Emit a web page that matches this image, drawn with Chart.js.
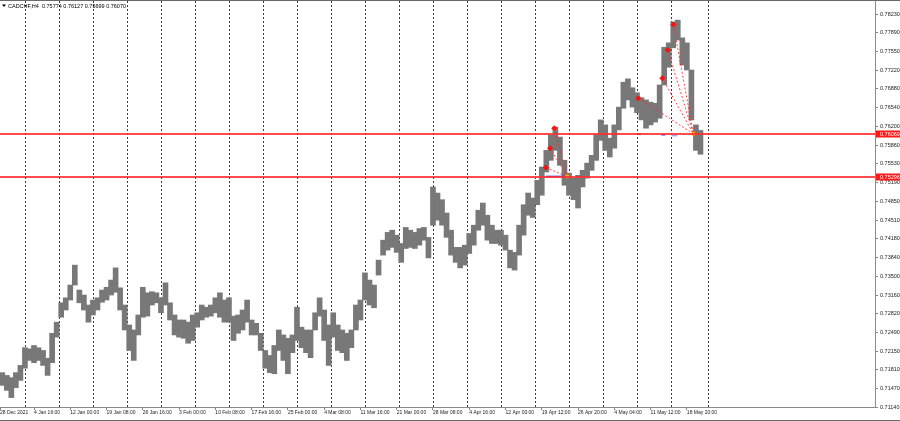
<!DOCTYPE html>
<html>
<head>
<meta charset="utf-8">
<title>CADCHF,H4</title>
<script src="https://cdn.jsdelivr.net/npm/chart.js@4.4.1/dist/chart.umd.min.js"></script>
<style>
html, body { margin: 0; padding: 0; background: #fff; }
canvas { display: block; }
</style>
</head>
<body>
<canvas id="grafico" width="900" height="421"></canvas>
<script>
// Máximas e mínimas do CADCHF H4, cada coluna junta 4 barras (início em 28 Dec 2021)
var highs = [
  0.7176, 0.7171, 0.7167, 0.7176, 0.7189, 0.7221, 0.7219, 0.7225, 0.7221, 0.7216,
  0.7202, 0.7247, 0.7267, 0.7302, 0.7311, 0.7334, 0.7370, 0.7325, 0.7316, 0.7298,
  0.7307, 0.7311, 0.7325, 0.7330, 0.7343, 0.7365, 0.7329, 0.7298, 0.7262, 0.7253,
  0.7280, 0.7330, 0.7320, 0.7322, 0.7320, 0.7311, 0.7338, 0.7302, 0.7280, 0.7271,
  0.7271, 0.7267, 0.7280, 0.7284, 0.7298, 0.7294, 0.7298, 0.7311, 0.7320, 0.7307,
  0.7311, 0.7278, 0.7280, 0.7289, 0.7307, 0.7271, 0.7265, 0.7247, 0.7216, 0.7207,
  0.7225, 0.7253, 0.7244, 0.7238, 0.7244, 0.7294, 0.7258, 0.7253, 0.7253, 0.7284,
  0.7311, 0.7289, 0.7262, 0.7284, 0.7262, 0.7253, 0.7247, 0.7253, 0.7298, 0.7307,
  0.7356, 0.7343, 0.7334, 0.7379, 0.7415, 0.7429, 0.7433, 0.7424, 0.7409, 0.7438,
  0.7433, 0.7429, 0.7436, 0.7438, 0.7420, 0.7511, 0.7500, 0.7488, 0.7464, 0.7433,
  0.7402, 0.7402, 0.7406, 0.7427, 0.7442, 0.7469, 0.7482, 0.7460, 0.7442, 0.7433,
  0.7433, 0.7424, 0.7397, 0.7393, 0.7442, 0.7479, 0.7500, 0.7491, 0.7523, 0.7547,
  0.7577, 0.7605, 0.7619, 0.7601, 0.7559, 0.7536, 0.7527, 0.7532, 0.7541, 0.7554,
  0.7568, 0.7605, 0.7632, 0.7623, 0.7599, 0.7623, 0.7655, 0.7700, 0.7706, 0.7690,
  0.7681, 0.7672, 0.7668, 0.7664, 0.7662, 0.7695, 0.7763, 0.7771, 0.7809, 0.7812,
  0.7780, 0.7771, 0.7722, 0.7623, 0.7613
];
var lows = [
  0.7153, 0.7144, 0.7131, 0.7149, 0.7162, 0.7184, 0.7198, 0.7194, 0.7198, 0.7189,
  0.7171, 0.7194, 0.7240, 0.7276, 0.7289, 0.7307, 0.7334, 0.7302, 0.7289, 0.7267,
  0.7280, 0.7289, 0.7303, 0.7307, 0.7316, 0.7321, 0.7289, 0.7253, 0.7216, 0.7198,
  0.7244, 0.7276, 0.7278, 0.7298, 0.7302, 0.7284, 0.7298, 0.7271, 0.7244, 0.7240,
  0.7238, 0.7229, 0.7234, 0.7258, 0.7271, 0.7276, 0.7278, 0.7284, 0.7276, 0.7267,
  0.7267, 0.7234, 0.7247, 0.7253, 0.7267, 0.7244, 0.7244, 0.7216, 0.7184, 0.7176,
  0.7174, 0.7216, 0.7198, 0.7174, 0.7212, 0.7234, 0.7221, 0.7212, 0.7203, 0.7253,
  0.7278, 0.7234, 0.7189, 0.7240, 0.7216, 0.7212, 0.7198, 0.7221, 0.7253, 0.7271,
  0.7307, 0.7298, 0.7293, 0.7352, 0.7388, 0.7397, 0.7402, 0.7393, 0.7375, 0.7400,
  0.7402, 0.7400, 0.7406, 0.7415, 0.7383, 0.7442, 0.7451, 0.7442, 0.7420, 0.7388,
  0.7375, 0.7365, 0.7370, 0.7391, 0.7406, 0.7433, 0.7442, 0.7415, 0.7409, 0.7409,
  0.7406, 0.7397, 0.7365, 0.7361, 0.7388, 0.7424, 0.7460, 0.7456, 0.7479, 0.7496,
  0.7538, 0.7559, 0.7577, 0.7550, 0.7514, 0.7496, 0.7488, 0.7473, 0.7511, 0.7527,
  0.7541, 0.7559, 0.7595, 0.7577, 0.7565, 0.7581, 0.7614, 0.7653, 0.7668, 0.7655,
  0.7645, 0.7632, 0.7617, 0.7623, 0.7628, 0.7635, 0.7695, 0.7727, 0.7762, 0.7776,
  0.7731, 0.7722, 0.7632, 0.7577, 0.7570
];
var barrasPorColuna = 4;

// Eixo do tempo (índice de barra H4)
var xLabels = ['28 Dec 2021', '4 Jan 16:00', '12 Jan 00:00', '19 Jan 08:00', '26 Jan 16:00',
  '3 Feb 00:00', '10 Feb 08:00', '17 Feb 16:00', '25 Feb 00:00', '4 Mar 08:00',
  '11 Mar 16:00', '21 Mar 00:00', '28 Mar 08:00', '4 Apr 16:00', '12 Apr 00:00',
  '19 Apr 12:00', '26 Apr 20:00', '4 May 04:00', '11 May 12:00', '18 May 20:00'];
var xLabelBars = [0, 30, 62, 94, 126, 158, 190, 222, 254, 286, 318, 350, 382, 414, 446,
  478, 510, 542, 574, 606];
var semanas = [22, 52, 82, 112, 142, 172, 202, 232, 262, 292, 322, 352, 382, 412, 442,
  472, 502, 532, 562, 592, 625];

// Eixo de preços
var yTicks = [0.78230, 0.77890, 0.77550, 0.77220, 0.76880, 0.76540, 0.76200, 0.75860,
  0.75530, 0.75190, 0.74850, 0.74510, 0.74180, 0.73840, 0.73500, 0.73160, 0.72820,
  0.72490, 0.72150, 0.71810, 0.71470, 0.71140];
var niveis = [0.76069, 0.75296];
var cabecalho = 'CADCHF,H4  0.75774 0.76127 0.75699 0.76070';

// Marcas de topo ligadas por linhas tracejadas
var fibo1Bars = [481.5, 485.3, 489];
var fibo1Precos = [0.7546, 0.7581, 0.7617];
var ancora1 = {x: 500.5, y: 0.7530};
var fibo2Bars = [563.2, 584.4, 589.1, 594.1];
var fibo2Precos = [0.7671, 0.7707, 0.7758, 0.7804];
var ancora2 = {x: 611.7, y: 0.7607};

var barIdx = highs.map(function(h, i) { return barrasPorColuna * i + 2; });

Chart.defaults.font.family = '"Liberation Sans", Arial, sans-serif';
Chart.defaults.color = '#222';

var datasets = [{
  type: 'bar',
  data: highs.map(function(h, i) { return {x: barIdx[i], y: [lows[i], h]}; }),
  backgroundColor: '#787878',
  barThickness: 5,
  order: 5
}];

function linhasFibo(bars, precos, ancora) {
  bars.forEach(function(b, i) {
    datasets.push({
      type: 'line',
      data: [{x: b, y: precos[i]}, ancora],
      borderColor: 'rgba(255,40,40,0.85)',
      borderWidth: 1,
      borderDash: [2, 2],
      pointRadius: 0,
      order: 2
    });
  });
  datasets.push({
    type: 'line',
    data: bars.map(function(b, i) { return {x: b, y: precos[i]}; }),
    showLine: false,
    pointStyle: 'rectRot',
    pointRadius: 2.5,
    backgroundColor: '#ff1010',
    borderColor: '#ff1010',
    order: 1
  });
  datasets.push({
    type: 'line',
    data: [ancora],
    showLine: false,
    pointStyle: 'rect',
    pointRadius: 2,
    backgroundColor: '#ffa500',
    borderColor: '#ffa500',
    order: 1
  });
}
linhasFibo(fibo1Bars, fibo1Precos, ancora1);
linhasFibo(fibo2Bars, fibo2Precos, ancora2);

// Pequenos segmentos azuis junto às âncoras
[[481.5, 498.5, 0.7530, '#3a3aff', 1.5], [562.5, 565.5, 0.7606, '#7a10a0', 1.5],
 [583.5, 587, 0.7605, '#5060ff', 1.5], [592.5, 597.5, 0.7604, '#a8a8ff', 2]].forEach(function(s) {
  datasets.push({
    type: 'line',
    data: [{x: s[0], y: s[2]}, {x: s[1], y: s[2]}],
    borderColor: s[3],
    borderWidth: s[4],
    pointRadius: 0,
    order: 3
  });
});

var desenhos = {
  id: 'desenhos',
  beforeDatasetsDraw: function(chart) {
    var ctx = chart.ctx, a = chart.chartArea, x = chart.scales.x;
    ctx.save();
    ctx.strokeStyle = '#3a3a3a';
    ctx.lineWidth = 1;
    ctx.setLineDash([2, 2]);
    semanas.forEach(function(b) {
      var px = Math.round(x.getPixelForValue(b)) + 0.5;
      ctx.beginPath();
      ctx.moveTo(px, a.top);
      ctx.lineTo(px, a.bottom);
      ctx.stroke();
    });
    ctx.restore();
  },
  afterDatasetsDraw: function(chart) {
    var ctx = chart.ctx, a = chart.chartArea, y = chart.scales.y;
    ctx.save();
    ctx.strokeStyle = 'rgba(255,45,45,0.85)';
    ctx.lineWidth = 2;
    niveis.forEach(function(v) {
      var py = Math.round(y.getPixelForValue(v));
      ctx.beginPath();
      ctx.moveTo(a.left, py);
      ctx.lineTo(a.right, py);
      ctx.stroke();
    });
    ctx.restore();
  },
  afterDraw: function(chart) {
    var ctx = chart.ctx, a = chart.chartArea, y = chart.scales.y;
    var W = chart.width, H = chart.height;
    ctx.save();
    // caixas de preço no eixo
    ctx.font = '5.5px "Liberation Sans", Arial, sans-serif';
    ctx.textBaseline = 'middle';
    ctx.textAlign = 'left';
    niveis.forEach(function(v) {
      var py = Math.round(y.getPixelForValue(v));
      ctx.fillStyle = '#ff1a1a';
      ctx.fillRect(a.right + 1, py - 3.5, W - a.right - 1, 7);
      ctx.fillStyle = '#fff';
      ctx.fillText(v.toFixed(5), a.right + 5, py + 0.5);
    });
    // cabeçalho
    ctx.fillStyle = '#000';
    ctx.beginPath();
    ctx.moveTo(2, 4.5); ctx.lineTo(6, 4.5); ctx.lineTo(4, 7); ctx.closePath();
    ctx.fill();
    ctx.fillText(cabecalho, 8, 6);
    // moldura
    ctx.fillStyle = '#6a6a6a';
    ctx.fillRect(0, 0, W, 1);
    ctx.fillRect(0, H - 1, W, 1);
    ctx.restore();
  }
};

new Chart(document.getElementById('grafico'), {
  type: 'bar',
  data: {datasets: datasets},
  plugins: [desenhos],
  options: {
    responsive: false,
    animation: false,
    events: [],
    layout: {autoPadding: false, padding: {top: 1, left: 0, right: 0, bottom: 0}},
    plugins: {legend: {display: false}, tooltip: {enabled: false}},
    scales: {
      x: {
        type: 'linear',
        position: 'bottom',
        min: 0,
        max: 772,
        offset: false,
        grid: {drawOnChartArea: false, offset: false, tickLength: 3, color: '#888'},
        border: {color: '#8a8a8a'},
        afterBuildTicks: function(s) {
          s.ticks = xLabelBars.map(function(b) { return {value: b}; });
        },
        ticks: {
          autoSkip: false,
          maxRotation: 0,
          align: 'start',
          padding: 0,
          font: {size: 5},
          callback: function(v, i) { return xLabels[i]; }
        },
        afterFit: function(s) {
          s.height = 14;
          s.paddingLeft = 0;
          s.paddingRight = 0;
        }
      },
      y: {
        type: 'linear',
        position: 'right',
        min: 0.7114,
        max: 0.78465,
        grid: {drawOnChartArea: false, tickLength: 3, color: '#888'},
        border: {color: '#8a8a8a'},
        afterBuildTicks: function(s) {
          s.ticks = yTicks.map(function(v) { return {value: v}; });
        },
        ticks: {
          padding: 2,
          font: {size: 5.5},
          callback: function(v) { return v.toFixed(5); }
        },
        afterFit: function(s) {
          s.width = 25;
          s.paddingTop = 0;
          s.paddingBottom = 0;
        }
      }
    }
  }
});
</script>
</body>
</html>
